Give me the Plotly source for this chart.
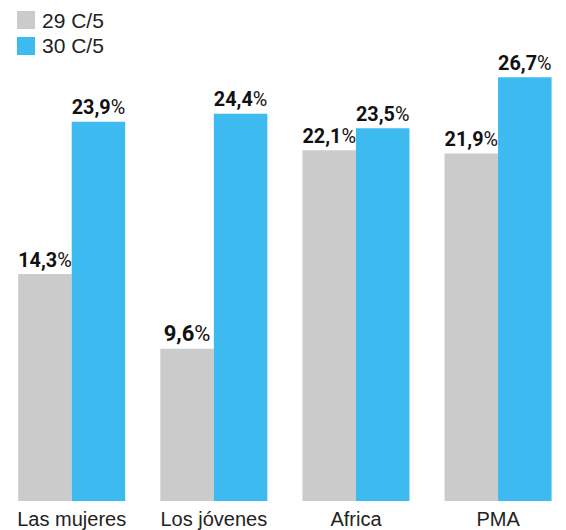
import plotly.graph_objects as go

categories = ["Las mujeres", "Los jóvenes", "Africa", "PMA"]
series_names = ["29 C/5", "30 C/5"]
values_29 = [14.3, 9.6, 22.1, 21.9]
values_30 = [23.9, 24.4, 23.5, 26.7]
colors = ["#cbcbcb", "#3dbaf0"]

def fmt(v):
    return "<b>" + f"{v:.1f}".replace(".", ",") + "</b>%"

fig = go.Figure()
for name, vals, col in zip(series_names, [values_29, values_30], colors):
    fig.add_trace(go.Bar(
        x=categories, y=vals, name=name, marker_color=col,
        marker_line_width=0,
        text=[fmt(v) for v in vals], textposition="outside",
        textfont=dict(family="Roboto", size=22, color="#111111"),
        cliponaxis=False, showlegend=False, hoverinfo="skip",
    ))

W, H = 566, 530
ml, mr, mt, mb = 0, 0, 25, 29
ph = H - mt - mb

def py(p):
    return (H - mb - p) / ph

shapes = []
annotations = []
for i, (name, col) in enumerate(zip(series_names, colors)):
    top = 11 + 26 * i
    shapes.append(dict(type="rect", xref="paper", yref="paper",
                       x0=17 / W, x1=35 / W, y0=py(top + 18), y1=py(top),
                       fillcolor=col, line_width=0))
    annotations.append(dict(xref="paper", yref="paper", x=40 / W, y=py(top + 9),
                            text=name, showarrow=False, xanchor="left", yanchor="middle",
                            font=dict(family="Liberation Sans", size=21, color="#222222")))

fig.update_layout(
    width=W, height=H,
    margin=dict(l=ml, r=mr, t=mt, b=mb),
    paper_bgcolor="white", plot_bgcolor="white",
    barmode="group", bargap=0.247, bargroupgap=0,
    shapes=shapes, annotations=annotations,
    xaxis=dict(range=[-0.5046, 3.478], showgrid=False, zeroline=False, showline=False,
               ticks="", ticklabelstandoff=4,
               tickfont=dict(family="Liberation Sans", size=20, color="#222222")),
    yaxis=dict(range=[0, 30], visible=False),
)
fig.write_html("out.html", config={"displayModeBar": False},
               post_script="document.body.style.margin='0';document.body.style.overflow='hidden';")
